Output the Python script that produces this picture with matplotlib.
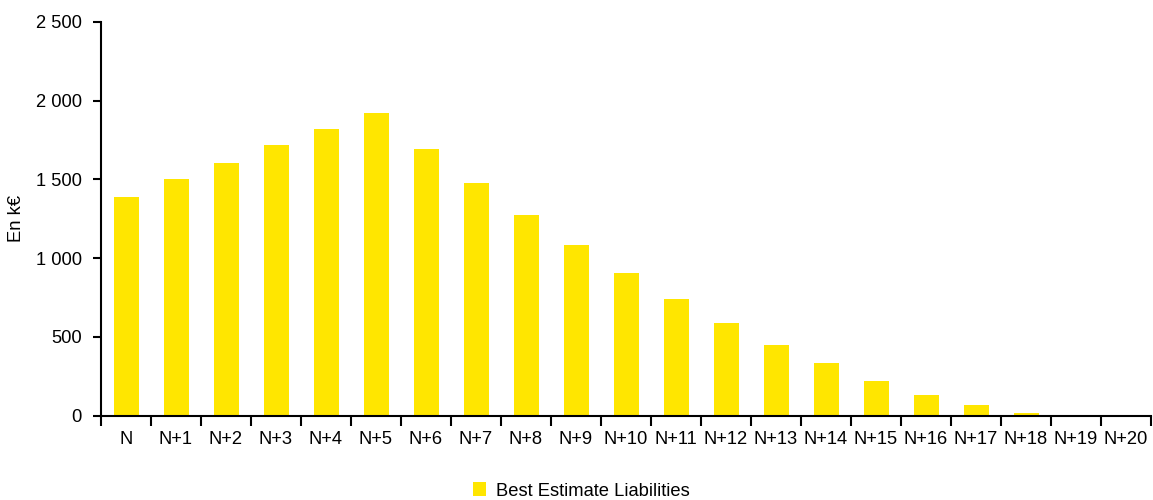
import matplotlib
matplotlib.use("Agg")
import matplotlib.pyplot as plt
from matplotlib.ticker import FuncFormatter

categories = ["N"] + [f"N+{i}" for i in range(1, 21)]
best_estimate = [1388, 1503, 1604, 1718, 1820, 1922, 1693, 1477, 1271, 1081,
                 905, 740, 588, 448, 334, 219, 130, 67, 15, 0, 0]
series_name = "Best Estimate Liabilities"
y_label = "En k€"

plt.rcParams["font.family"] = ["Liberation Sans", "DejaVu Sans"]
FS = 13.2

fig = plt.figure(figsize=(11.53, 5.0), dpi=100)
ax = fig.add_axes([101 / 1153, 1 - 415.5 / 500, 1050 / 1153, (415.5 - 22) / 500])

x = list(range(len(categories)))
ax.bar(x, best_estimate, width=0.5, color="#FFE600", label=series_name, zorder=2)

ax.set_xlim(-0.5, len(categories) - 0.5)
ax.set_ylim(0, 2500)
ax.set_yticks(range(0, 2501, 500))
ax.yaxis.set_major_formatter(FuncFormatter(lambda v, p: f"{int(v):,}".replace(",", " ")))

# category labels centred under bars, tick marks on category boundaries
ax.set_xticks(x)
ax.set_xticklabels(categories)
ax.set_xticks([i - 0.5 for i in range(len(categories) + 1)], minor=True)
ax.tick_params(axis="x", which="major", length=0, pad=11, labelsize=FS)
ax.tick_params(axis="x", which="minor", length=7, width=1.5, direction="out")
ax.tick_params(axis="y", length=6, width=1.5, direction="out", labelsize=FS, pad=8)

for side in ("top", "right"):
    ax.spines[side].set_visible(False)
for side in ("left", "bottom"):
    ax.spines[side].set_linewidth(1.5)

ax.set_ylabel(y_label, fontsize=FS)
ax.yaxis.set_label_coords(-76 / 1050, 0.5)

handles, labels = ax.get_legend_handles_labels()
fig.legend(handles, labels, loc="center", bbox_to_anchor=(581 / 1153, 1 - 491 / 500),
           frameon=False, fontsize=FS, handlelength=0.75, handleheight=0.75,
           handletextpad=0.5)

fig.savefig("out.png", dpi=100)
